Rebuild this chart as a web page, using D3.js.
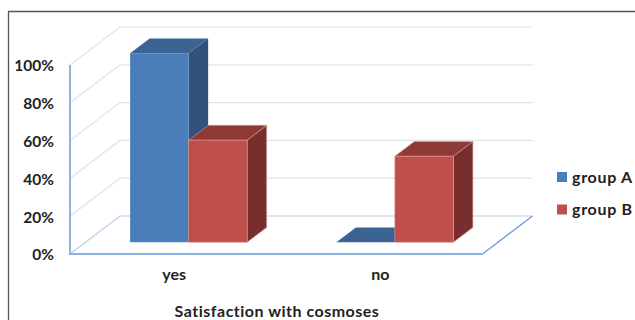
<!DOCTYPE html>
<html>
<head>
<meta charset="utf-8">
<script src="https://cdn.jsdelivr.net/npm/d3@7"></script>
<style>
html,body{margin:0;padding:0;background:#fff;}
svg{display:block;}
text{font-family:Lato,"Open Sans",sans-serif;font-weight:700;fill:#222;}
</style>
</head>
<body>
<svg id="chart" width="635" height="320"></svg>
<script>
const categories = ["yes", "no"];
const seriesNames = ["group A", "group B"];
const groupA = [100, 0];
const groupB = [54, 45.5];
const tickValues = [0, 20, 40, 60, 80, 100];
const axisTitle = "Satisfaction with cosmoses";

const faces = {
  "group A": {front: "#4a7ebb", top: "#3b6494", side: "#30527c"},
  "group B": {front: "#be4f4b", top: "#8f3a37", side: "#772e2c"}
};

const svg = d3.select("#chart");

// Oblique projection: a point is (plot x, value, depth 0..1 from front to back).
const W = 412.5, H = 189, DX = 50, DY = -38;
const originX = 70, originY = 254;
const px = (x, d) => originX + x + d * DX;
const py = (v, d) => yScale(v) + d * DY;

const yScale = d3.scaleLinear().domain([0, 100]).range([originY, originY - H]);
const xBand = d3.scaleBand().domain(categories).range([0, W]);
const seriesBand = d3.scaleBand().domain(seriesNames)
  .range([0, 117]);
const depthStart = 0.31, depthEnd = 0.70;

const poly = pts => pts.map(p => p.join(",")).join(" ");

// Outer frame, open at the right and bottom
svg.append("path")
  .attr("d", "M8.5 320V11.5H635")
  .attr("fill", "none").attr("stroke", "#555").attr("stroke-width", 1.3);

// Wall gridlines: along the left wall, then across the back
const grid = svg.append("g").attr("fill", "none").attr("stroke", "#e2e3e5").attr("stroke-width", 1.2);
tickValues.filter(t => t > 0).forEach(t => {
  grid.append("polyline").attr("points", poly([
    [px(0, 0), py(t, 0)], [px(0, 1), py(t, 1)], [px(W, 1), py(t, 1)]
  ]));
});

// Floor outline and vertical axis
const floor = svg.append("g").attr("fill", "none");
floor.append("polyline").attr("stroke", "#b9cde6").attr("stroke-width", 1.2)
  .attr("points", poly([[px(0, 0), py(0, 0)], [px(0, 1), py(0, 1)], [px(W, 1), py(0, 1)]]));
floor.append("line").attr("stroke", "#6d9bd3").attr("stroke-width", 1.3)
  .attr("x1", px(W, 0)).attr("y1", py(0, 0)).attr("x2", px(W, 1)).attr("y2", py(0, 1));
floor.append("line").attr("stroke", "#8db3e2").attr("stroke-width", 2)
  .attr("x1", px(0, 0)).attr("y1", py(0, 0)).attr("x2", px(W, 0)).attr("y2", py(0, 0));
floor.append("line").attr("stroke", "#8db3e2").attr("stroke-width", 2)
  .attr("x1", px(0, 0)).attr("y1", py(100, 0)).attr("x2", px(0, 0)).attr("y2", py(0, 0) + 1);

// Value axis labels
const axis = d3.axisLeft(yScale).tickValues(tickValues).tickFormat(d => d + "%").tickSize(0).tickPadding(0);
const axisG = svg.append("g").attr("transform", "translate(54,1)").call(axis);
axisG.select(".domain").remove();
axisG.selectAll("text").style("font-size", "15.5px").attr("fill", "#222");

// Bars, each drawn as top, side and front faces
const rows = categories.flatMap((c, i) => [
  {cat: c, name: seriesNames[0], value: groupA[i]},
  {cat: c, name: seriesNames[1], value: groupB[i]}
]);

rows.forEach(r => {
  const centre = xBand(r.cat) + xBand.bandwidth() / 2;
  const x0 = centre - 58.5 + seriesBand(r.name);
  const x1 = x0 + seriesBand.bandwidth();
  const d0 = depthStart, d1 = depthEnd;
  const f = faces[r.name];
  const g = svg.append("g");
  const edge = r.name === "group B" ? "#d99a97" : "none";
  if (r.value > 0) {
    g.append("polygon").attr("fill", f.side).attr("stroke", edge).attr("stroke-width", 0.6)
      .attr("points", poly([
        [px(x1, d0), py(0, d0)], [px(x1, d1), py(0, d1)],
        [px(x1, d1), py(r.value, d1)], [px(x1, d0), py(r.value, d0)]
      ]));
  }
  g.append("polygon").attr("fill", f.top).attr("stroke", edge === "none" || r.value === 0 ? "none" : edge).attr("stroke-width", 0.6)
    .attr("points", poly([
      [px(x0, d0), py(r.value, d0)], [px(x0, d1), py(r.value, d1)],
      [px(x1, d1), py(r.value, d1)], [px(x1, d0), py(r.value, d0)]
    ]));
  if (r.value > 0) {
    g.append("rect").attr("fill", f.front).attr("stroke", edge).attr("stroke-width", 0.6)
      .attr("x", px(x0, d0)).attr("width", x1 - x0)
      .attr("y", py(r.value, d0)).attr("height", py(0, d0) - py(r.value, d0));
  }
});

// Category labels
svg.append("g").selectAll("text").data(categories).join("text")
  .attr("x", d => px(xBand(d) + xBand.bandwidth() / 2, 0) + 1)
  .attr("y", 280)
  .attr("text-anchor", "middle")
  .style("font-size", "16px")
  .text(d => d);

// Axis title
svg.append("text")
  .attr("x", 277).attr("y", 317)
  .attr("text-anchor", "middle")
  .style("font-size", "16px")
  .style("letter-spacing", "0.5px")
  .text(axisTitle);

// Legend
const legend = svg.append("g").selectAll("g").data(seriesNames).join("g")
  .attr("transform", (d, i) => `translate(557,${172 + i * 32.5})`);
legend.append("rect").attr("width", 10).attr("height", 10).attr("fill", d => faces[d].front);
legend.append("text").attr("x", 15).attr("y", 10.5)
  .style("font-size", "16px").style("letter-spacing", "0.7px").text(d => d);
</script>
</body>
</html>
